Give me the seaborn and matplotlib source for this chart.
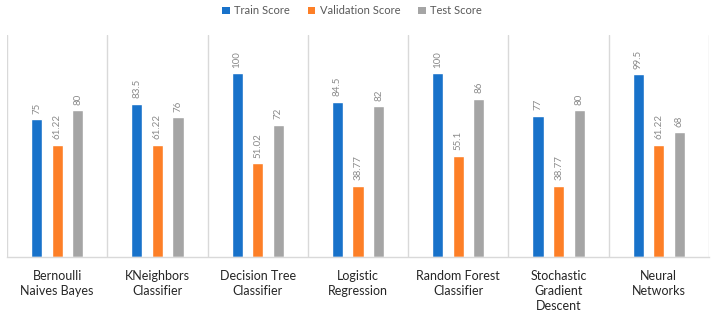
import matplotlib
matplotlib.use("Agg")
import matplotlib.pyplot as plt
from matplotlib.patches import Patch
import seaborn as sns
import pandas as pd

categories = ["Bernoulli\nNaives Bayes", "KNeighbors\nClassifier", "Decision Tree\nClassifier",
              "Logistic\nRegression", "Random Forest\nClassifier", "Stochastic\nGradient\nDescent",
              "Neural\nNetworks"]
train = [75, 83.5, 100, 84.5, 100, 77, 99.5]
validation = [61.22, 61.22, 51.02, 38.77, 55.1, 38.77, 61.22]
test = [80, 76, 72, 82, 86, 80, 68]
series = ["Train Score", "Validation Score", "Test Score"]
colors = ["#1872CA", "#FD7F27", "#A5A5A5"]

rows = []
for s, vals in zip(series, [train, validation, test]):
    for c, v in zip(categories, vals):
        rows.append({"Model": c, "Series": s, "Score": v})
df = pd.DataFrame(rows)

sns.set_theme(style="white")
plt.rcParams["font.family"] = ["Lato", "DejaVu Sans"]

fig = plt.figure(figsize=(7.17, 3.11), dpi=100)
ax = fig.add_axes([7/717, 53.7/311, 702/717, (257.3-35)/311])

sns.barplot(data=df, x="Model", y="Score", hue="Series", hue_order=series,
            palette=colors, width=0.615, gap=0.46, saturation=1, legend=False,
            errorbar=None, ax=ax)

for cont, vals in zip(ax.containers, [train, validation, test]):
    ax.bar_label(cont, labels=[f"{v:g}" for v in vals], rotation=90, padding=4,
                 fontsize=7, color="#8a8a8a")

ax.set_xlim(-0.5, len(categories) - 0.5)
ax.set_ylim(0, 120.8)
for i in range(len(categories) + 1):
    ax.axvline(i - 0.5, color="#d9d9d9", lw=1, zorder=0)

for sp in ["top", "left", "right"]:
    ax.spines[sp].set_visible(False)
ax.spines["bottom"].set_color("#d9d9d9")
ax.spines["bottom"].set_linewidth(1)
ax.set_yticks([])
ax.set_xlabel("")
ax.set_ylabel("")
ax.tick_params(axis="x", length=0, pad=9, labelsize=9, labelcolor="#262626")
for t in ax.get_xticklabels():
    t.set_linespacing(1.3)
    t.set_verticalalignment("top")

handles = [Patch(facecolor=c, edgecolor="none", label=s) for s, c in zip(series, colors)]
leg = fig.legend(handles=handles, loc="center", bbox_to_anchor=(0.491, 0.965), ncol=3,
                 frameon=False, fontsize=8, handlelength=0.7, handleheight=0.7,
                 handletextpad=0.4, columnspacing=1.6)
for t in leg.get_texts():
    t.set_color("#595959")

fig.savefig("out.png", dpi=100)
